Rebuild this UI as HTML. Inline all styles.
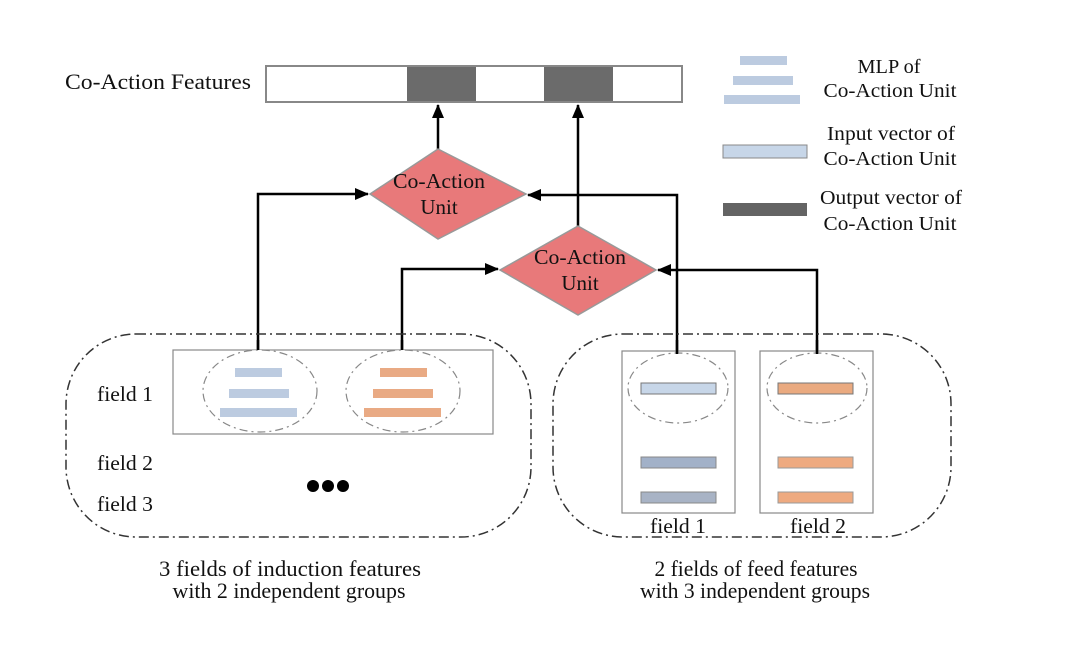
<!DOCTYPE html>
<html><head><meta charset="utf-8"><style>
html,body{margin:0;padding:0;background:#fff;}
svg{display:block;}
text{font-family:"Liberation Serif",serif;fill:#111;}
</style></head><body>
<svg width="1080" height="651" viewBox="0 0 1080 651" xmlns="http://www.w3.org/2000/svg">
<defs>
<marker id="ah2" markerWidth="14" markerHeight="12" refX="13" refY="6" orient="auto" markerUnits="userSpaceOnUse">
<path d="M0,0 L14,6 L0,12 z" fill="#000"/>
</marker>
</defs>

<text x="65" y="89" font-size="22" textLength="186" lengthAdjust="spacingAndGlyphs">Co-Action Features</text>
<rect x="266" y="66" width="416" height="36" fill="#fff" stroke="#888" stroke-width="2"/>
<rect x="407" y="67" width="69" height="34" fill="#6b6b6b"/>
<rect x="544" y="67" width="69" height="34" fill="#6b6b6b"/>

<g stroke="#000" stroke-width="2.5" fill="none">
<line x1="438" y1="150" x2="438" y2="105" marker-end="url(#ah2)"/>
<line x1="578" y1="227" x2="578" y2="105" marker-end="url(#ah2)"/>
<polyline points="258,352 258,194 368,194" marker-end="url(#ah2)"/>
<polyline points="402,352 402,269 498,269" marker-end="url(#ah2)"/>
<polyline points="677,354 677,195 528,195" marker-end="url(#ah2)"/>
<polyline points="817,354 817,270 658,270" marker-end="url(#ah2)"/>
</g>

<polygon points="438,149 526,194 438,239 370,194" fill="#e8797a" stroke="#999" stroke-width="1.5"/>
<text x="439" y="188" font-size="21" text-anchor="middle" textLength="92" lengthAdjust="spacingAndGlyphs">Co-Action</text>
<text x="439" y="214" font-size="21" text-anchor="middle">Unit</text>
<polygon points="578,226 656,270 578,315 500,270" fill="#e8797a" stroke="#999" stroke-width="1.5"/>
<text x="580" y="264" font-size="21" text-anchor="middle" textLength="92" lengthAdjust="spacingAndGlyphs">Co-Action</text>
<text x="580" y="290" font-size="21" text-anchor="middle">Unit</text>

<rect x="66" y="334" width="465" height="203" rx="70" ry="70" fill="none" stroke="#333" stroke-width="1.5" stroke-dasharray="10,4,2,4"/>
<rect x="173" y="350" width="320" height="84" fill="none" stroke="#888" stroke-width="1.2"/>
<ellipse cx="260" cy="391" rx="57" ry="41" fill="#fff" stroke="#888" stroke-width="1.2" stroke-dasharray="8,4,2,4"/>
<ellipse cx="403" cy="391" rx="57" ry="41" fill="#fff" stroke="#888" stroke-width="1.2" stroke-dasharray="8,4,2,4"/>
<line x1="258" y1="340" x2="258" y2="350" stroke="#000" stroke-width="2.5"/>
<line x1="402" y1="340" x2="402" y2="350" stroke="#000" stroke-width="2.5"/>
<g fill="#bccbe0">
<rect x="235" y="368" width="47" height="9"/>
<rect x="229" y="389" width="60" height="9"/>
<rect x="220" y="408" width="77" height="9"/>
</g>
<g fill="#e9aa84">
<rect x="380" y="368" width="47" height="9"/>
<rect x="373" y="389" width="60" height="9"/>
<rect x="364" y="408" width="77" height="9"/>
</g>
<text x="97" y="401" font-size="21" textLength="56" lengthAdjust="spacingAndGlyphs">field 1</text>
<text x="97" y="470" font-size="21" textLength="56" lengthAdjust="spacingAndGlyphs">field 2</text>
<text x="97" y="511" font-size="21" textLength="56" lengthAdjust="spacingAndGlyphs">field 3</text>
<circle cx="313" cy="486" r="6" fill="#000"/>
<circle cx="328" cy="486" r="6" fill="#000"/>
<circle cx="343" cy="486" r="6" fill="#000"/>
<text x="290" y="576" font-size="22" text-anchor="middle" textLength="262" lengthAdjust="spacingAndGlyphs">3 fields of induction features</text>
<text x="289" y="598" font-size="22" text-anchor="middle" textLength="233" lengthAdjust="spacingAndGlyphs">with 2 independent groups</text>

<rect x="553" y="334" width="398" height="203" rx="70" ry="70" fill="none" stroke="#333" stroke-width="1.5" stroke-dasharray="10,4,2,4"/>
<rect x="622" y="351" width="113" height="162" fill="none" stroke="#888" stroke-width="1.2"/>
<rect x="760" y="351" width="113" height="162" fill="none" stroke="#888" stroke-width="1.2"/>
<ellipse cx="678" cy="388" rx="50" ry="35" fill="#fff" stroke="#888" stroke-width="1.2" stroke-dasharray="8,4,2,4"/>
<ellipse cx="817" cy="388" rx="50" ry="35" fill="#fff" stroke="#888" stroke-width="1.2" stroke-dasharray="8,4,2,4"/>
<line x1="677" y1="340" x2="677" y2="354" stroke="#000" stroke-width="2.5"/>
<line x1="817" y1="340" x2="817" y2="354" stroke="#000" stroke-width="2.5"/>
<rect x="641" y="383" width="75" height="11" fill="#c7d6e8" stroke="#777" stroke-width="1"/>
<rect x="641" y="457" width="75" height="11" fill="#a2b1c8" stroke="#888" stroke-width="1"/>
<rect x="641" y="492" width="75" height="11" fill="#a8b3c5" stroke="#888" stroke-width="1"/>
<rect x="778" y="383" width="75" height="11" fill="#eaaa80" stroke="#777" stroke-width="1"/>
<rect x="778" y="457" width="75" height="11" fill="#eeaa80" stroke="#999" stroke-width="1"/>
<rect x="778" y="492" width="75" height="11" fill="#eeaa80" stroke="#999" stroke-width="1"/>
<text x="678" y="533" font-size="21" text-anchor="middle" textLength="56" lengthAdjust="spacingAndGlyphs">field 1</text>
<text x="818" y="533" font-size="21" text-anchor="middle" textLength="56" lengthAdjust="spacingAndGlyphs">field 2</text>
<text x="756" y="576" font-size="22" text-anchor="middle" textLength="203" lengthAdjust="spacingAndGlyphs">2 fields of feed features</text>
<text x="755" y="598" font-size="22" text-anchor="middle" textLength="230" lengthAdjust="spacingAndGlyphs">with 3 independent groups</text>

<g fill="#bccbe0">
<rect x="740" y="56" width="47" height="9"/>
<rect x="733" y="76" width="60" height="9"/>
<rect x="724" y="95" width="76" height="9"/>
</g>
<text x="889" y="73" font-size="20" text-anchor="middle" textLength="63" lengthAdjust="spacingAndGlyphs">MLP of</text>
<text x="890" y="97" font-size="20" text-anchor="middle" textLength="133" lengthAdjust="spacingAndGlyphs">Co-Action Unit</text>
<rect x="723" y="145" width="84" height="13" fill="#c7d6e8" stroke="#888" stroke-width="1"/>
<text x="891" y="140" font-size="20" text-anchor="middle" textLength="128" lengthAdjust="spacingAndGlyphs">Input vector of</text>
<text x="890" y="165" font-size="20" text-anchor="middle" textLength="133" lengthAdjust="spacingAndGlyphs">Co-Action Unit</text>
<rect x="723" y="203" width="84" height="13" fill="#646464"/>
<text x="891" y="204" font-size="20" text-anchor="middle" textLength="142" lengthAdjust="spacingAndGlyphs">Output vector of</text>
<text x="890" y="230" font-size="20" text-anchor="middle" textLength="133" lengthAdjust="spacingAndGlyphs">Co-Action Unit</text>
</svg>
</body></html>
